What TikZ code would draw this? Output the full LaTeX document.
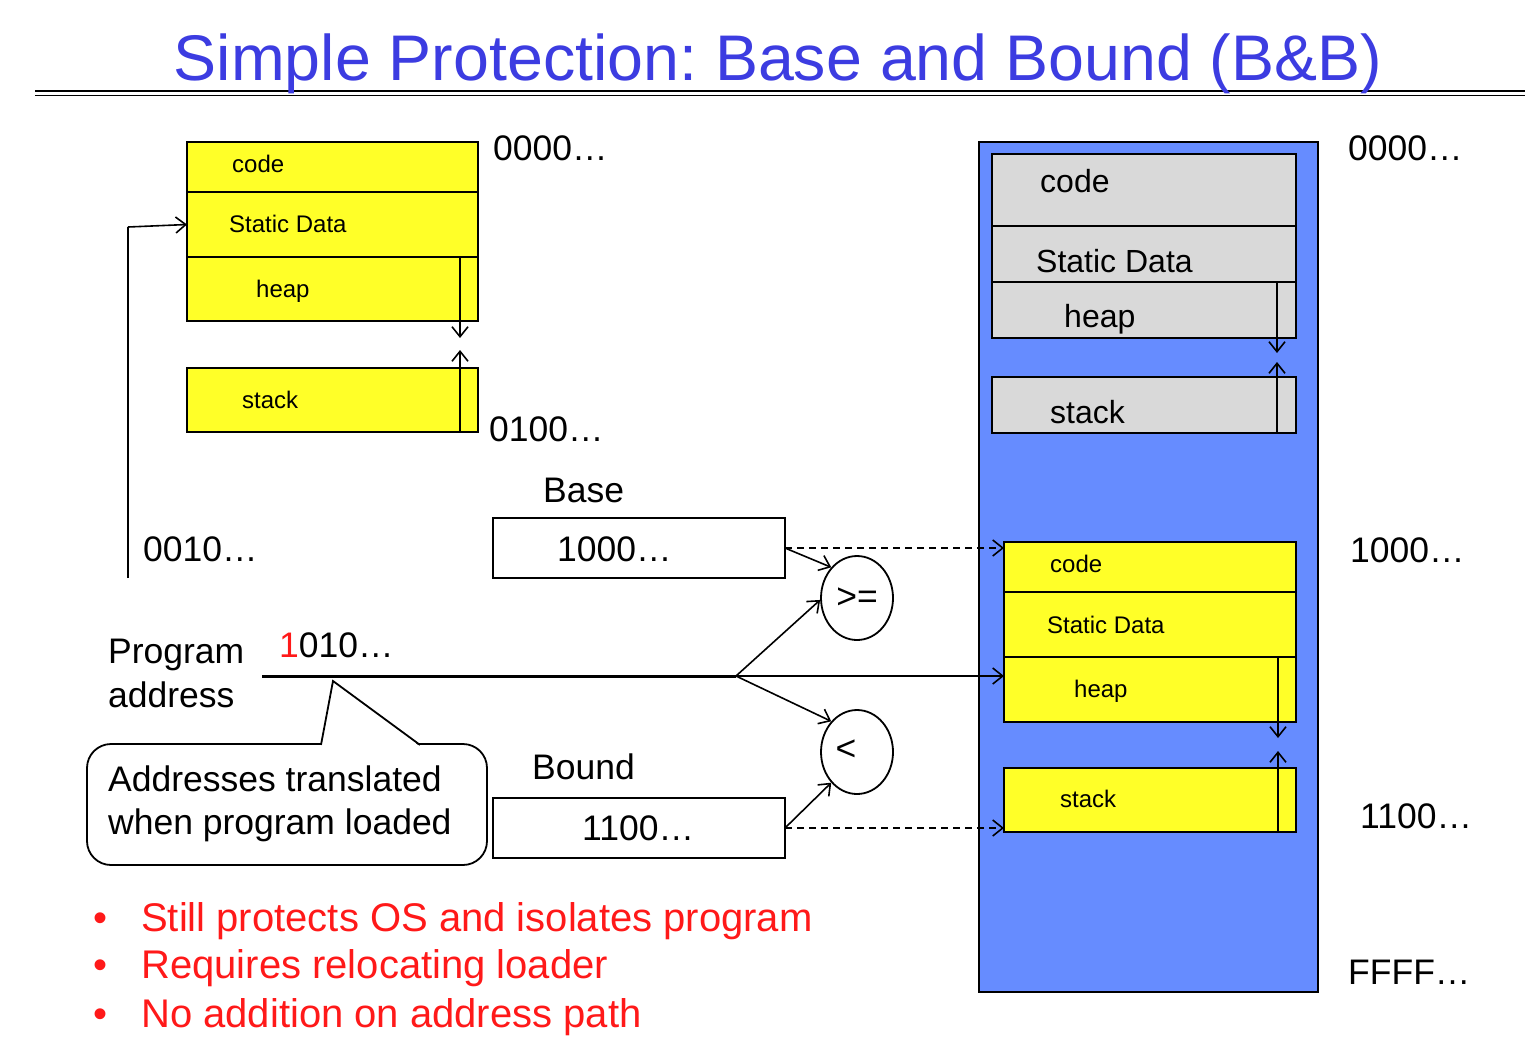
\documentclass[tikz,border=0pt]{standalone}
\usepackage{fontspec}
\setmainfont{Liberation Sans}
\usetikzlibrary{arrows.meta,shapes.geometric,calc}
\definecolor{titleblue}{RGB}{60,60,225}
\definecolor{membl}{RGB}{102,140,255}
\definecolor{segyel}{RGB}{255,255,40}
\definecolor{seggray}{RGB}{217,217,217}
\definecolor{notered}{RGB}{255,25,25}
\frenchspacing

\begin{document}
\begin{tikzpicture}[x=1pt,y=-1pt,
  >={Straight Barb[length=10pt,width=16pt]},
  seg/.style={draw, line width=1.9pt, rectangle, inner sep=0pt, outer sep=0pt, anchor=north west},
  bigtxt/.style={font=\fontsize{35.5}{42}\selectfont, inner sep=0pt, anchor=base west},
  midtxt/.style={font=\fontsize{32}{38}\selectfont, inner sep=0pt, anchor=base west},
  smalltxt/.style={font=\fontsize{24}{28}\selectfont, inner sep=0pt, anchor=base west},
  bultxt/.style={font=\fontsize{40}{46}\selectfont, text=notered, inner sep=0pt, anchor=base west},
  thinarrow/.style={->, line width=1.6pt},
  cmp/.style={ellipse, draw, line width=1.8pt, minimum width=72pt, minimum height=84pt, inner sep=0pt, fill=white}
]
\useasboundingbox (0,0) rectangle (1525,1042);
\fill[white] (0,0) rectangle (1525,1042);

% heading and its double rule
\draw[line width=2.6pt] (35,91) -- (1525,91);
\draw[line width=1.6pt] (35,95.5) -- (1525,95.5);
\node[font=\fontsize{64.5}{70}\selectfont, text=titleblue, inner sep=0pt, anchor=base] (title) at (778,80) {Simple Protection: Base and Bound (B\&B)};

% program image as built (addresses from 0000...)
\node[seg, fill=segyel, minimum width=291pt, minimum height=50pt] (lcode) at (187,142) {};
\node[seg, fill=segyel, minimum width=291pt, minimum height=65pt] (ldata) at (187,192) {};
\node[seg, fill=segyel, minimum width=291pt, minimum height=64pt] (lheap) at (187,257) {};
\node[seg, fill=segyel, minimum width=291pt, minimum height=64pt] (lstack) at (187,368) {};
\node[smalltxt] (tlcode) at (232,172) {code};
\node[smalltxt] (tldata) at (229,232) {Static Data};
\node[smalltxt] (tlheap) at (256,297) {heap};
\node[smalltxt] (tlstack) at (242,408) {stack};
\draw[thinarrow] ($(lheap.north east)+(-18,0)$) -- ($(lheap.south east)+(-18,17)$);
\draw[thinarrow] ($(lstack.south east)+(-18,0)$) -- ($(lstack.north east)+(-18,-18)$);
\node[bigtxt] (la0) at (493,160) {0000…};
\node[bigtxt] (la1) at (489,441) {0100…};
\node[bigtxt] (la2) at (143,561) {0010…};

% reference from the program back into its static data
\coordinate (loopbot) at (128,578);
\coordinate (looptop) at (128,227);
\draw[line width=2.6pt] (loopbot) -- (looptop);
\draw[thinarrow] (looptop) -- (ldata.west);

% physical memory
\node[seg, fill=membl, line width=2pt, minimum width=339pt, minimum height=850pt] (mem) at (979,142) {};
\node[seg, fill=seggray, minimum width=304pt, minimum height=72pt] (gcode) at (992,154) {};
\node[seg, fill=seggray, minimum width=304pt, minimum height=56pt] (gdata) at (992,226) {};
\node[seg, fill=seggray, minimum width=304pt, minimum height=56pt] (gheap) at (992,282) {};
\node[seg, fill=seggray, minimum width=304pt, minimum height=56pt] (gstack) at (992,377) {};
\node[midtxt] (tgcode) at (1040,192) {code};
\node[midtxt] (tgdata) at (1036,272) {Static Data};
\node[midtxt] (tgheap) at (1064,327) {heap};
\node[midtxt] (tgstack) at (1050,423) {stack};
\draw[thinarrow] ($(gheap.north east)+(-19,0)$) -- ($(gheap.south east)+(-19,15)$);
\draw[thinarrow] ($(gstack.south east)+(-19,0)$) -- ($(gstack.north east)+(-19,-15)$);

\node[seg, fill=segyel, minimum width=292pt, minimum height=50pt] (ycode) at (1004,542) {};
\node[seg, fill=segyel, minimum width=292pt, minimum height=65pt] (ydata) at (1004,592) {};
\node[seg, fill=segyel, minimum width=292pt, minimum height=65pt] (yheap) at (1004,657) {};
\node[seg, fill=segyel, minimum width=292pt, minimum height=64pt] (ystack) at (1004,768) {};
\node[smalltxt] (tycode) at (1050,572) {code};
\node[smalltxt] (tydata) at (1047,633) {Static Data};
\node[smalltxt] (tyheap) at (1074,697) {heap};
\node[smalltxt] (tystack) at (1060,807) {stack};
\draw[thinarrow] ($(yheap.north east)+(-18,0)$) -- ($(yheap.south east)+(-18,16)$);
\draw[thinarrow] ($(ystack.south east)+(-18,0)$) -- ($(ystack.north east)+(-18,-17)$);

\node[bigtxt] (ra0) at (1348,160) {0000…};
\node[bigtxt] (ra1) at (1350,562) {1000…};
\node[bigtxt] (ra2) at (1360,828) {1100…};
\node[bigtxt] (ra3) at (1348,984) {FFFF…};

% base and bound registers
\node[bigtxt] (baselbl) at (543,502) {Base};
\node[seg, fill=white, minimum width=292pt, minimum height=60pt] (base) at (493,518) {};
\node[bigtxt] (baseval) at (557,561) {1000…};
\node[bigtxt] (boundlbl) at (532,779) {Bound};
\node[seg, fill=white, minimum width=292pt, minimum height=60pt] (bound) at (493,798) {};
\node[bigtxt] (boundval) at (582,840) {1100…};

% comparators
\node[cmp, font=\fontsize{35.5}{42}\selectfont] (ge) at (857,598) {>=};
\node[cmp] (lt) at (857,752) {};
\node[font=\fontsize{35.5}{42}\selectfont, inner sep=0pt] (lttxt) at (846,750) {<};

% address path
\node[bigtxt] (proglbl) at (108,663) {Program};
\node[bigtxt] (addrlbl) at (108,707) {address};
\node[bigtxt] (progaddr) at (279,657) {\textcolor{notered}{1}010…};
\coordinate (pa) at (262,676);
\coordinate (junc) at (736,676);
\draw[line width=3pt] (pa) -- (junc);
\draw[thinarrow] (junc) -- (junc -| yheap.west);
\draw[thinarrow] (junc) -- (ge.183);
\draw[thinarrow] (junc) -- (lt.130);
\draw[thinarrow] (base.east) -- (ge.130);
\draw[thinarrow] (bound.east) -- (lt.230);
\draw[thinarrow, dashed, dash pattern=on 7pt off 5pt] (base.east) -- (base.east -| ycode.west);
\draw[thinarrow, dashed, dash pattern=on 7pt off 5pt] (bound.east) -- (bound.east -| ystack.west);

% callout
\node[draw, line width=1.8pt, fill=white, rounded corners=24pt, minimum width=400pt, minimum height=121pt, inner sep=0pt, outer sep=0pt, anchor=north west] (callout) at (87,744) {};
\coordinate (ctip) at (333,681);
\fill[white] (321.5,746) -- (ctip) -- (419.5,746) -- cycle;
\draw[line width=1.8pt, line join=miter] (321,744.9) -- (ctip) -- (420,744.9);
\node[bigtxt] (ct1) at (108,791) {Addresses translated};
\node[bigtxt] (ct2) at (108,834) {when program loaded};

% bullet points
\node[bultxt, anchor=base] (b1dot) at (101,931) {•};
\node[bultxt] (b1) at (141,931) {Still protects OS and isolates program};
\node[bultxt, anchor=base] (b2dot) at (101,978) {•};
\node[bultxt] (b2) at (141,978) {Requires relocating loader};
\node[bultxt, anchor=base] (b3dot) at (101,1027) {•};
\node[bultxt] (b3) at (141,1027) {No addition on address path};
\end{tikzpicture}
\end{document}
